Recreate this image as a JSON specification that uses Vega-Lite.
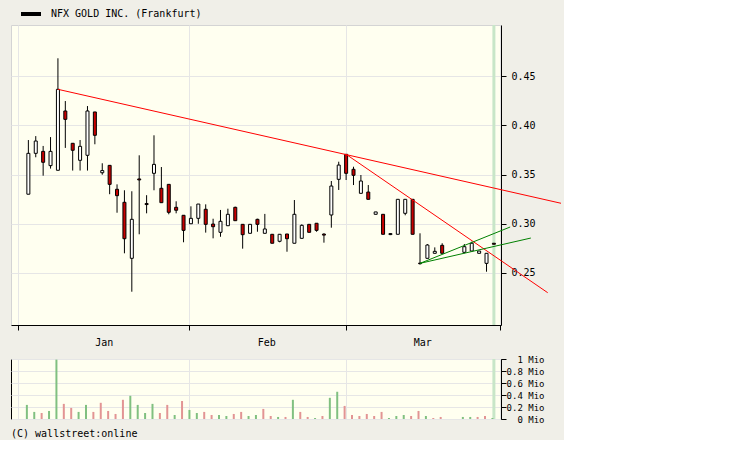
{
  "$schema": "https://vega.github.io/schema/vega-lite/v6.json",
  "background": "#f0efe8",
  "padding": {"left": 10, "top": 4, "right": 0, "bottom": 0},
  "spacing": 6,
  "config": {
    "view": {"fill": "#fffff0"},
    "axis": {"labelFont": "DejaVu Sans Mono", "labelFontSize": 10, "labelColor": "black", "tickColor": "black", "domainColor": "black", "gridColor": "#e6e6e6", "tickSize": 5}
  },
  "datasets": {
    "ohlc": [
      {"i":0,"o":0.330,"h":0.385,"l":0.330,"c":0.3715,"v":235000,"vd":"up"},
      {"i":1,"o":0.3715,"h":0.389,"l":0.3675,"c":0.384,"v":118000,"vd":"up"},
      {"i":2,"o":0.3735,"h":0.379,"l":0.3488,"c":0.3624,"v":100000,"vd":"down"},
      {"i":3,"o":0.359,"h":0.388,"l":0.356,"c":0.3735,"v":134000,"vd":"up"},
      {"i":4,"o":0.3543,"h":0.468,"l":0.3543,"c":0.4365,"v":990000,"vd":"up"},
      {"i":5,"o":0.4145,"h":0.4246,"l":0.377,"c":0.406,"v":252000,"vd":"down"},
      {"i":6,"o":0.3817,"h":0.3817,"l":0.354,"c":0.3746,"v":185000,"vd":"down"},
      {"i":7,"o":0.3644,"h":0.385,"l":0.354,"c":0.3786,"v":118000,"vd":"up"},
      {"i":8,"o":0.3695,"h":0.4195,"l":0.354,"c":0.4145,"v":235000,"vd":"up"},
      {"i":9,"o":0.4135,"h":0.4135,"l":0.3807,"c":0.3898,"v":118000,"vd":"down"},
      {"i":10,"o":0.3518,"h":0.3614,"l":0.3498,"c":0.354,"v":270000,"vd":"down"},
      {"i":11,"o":0.3593,"h":0.3593,"l":0.330,"c":0.340,"v":134000,"vd":"down"},
      {"i":12,"o":0.335,"h":0.340,"l":0.3112,"c":0.3285,"v":84000,"vd":"down"},
      {"i":13,"o":0.3218,"h":0.334,"l":0.270,"c":0.2848,"v":320000,"vd":"down"},
      {"i":14,"o":0.2649,"h":0.333,"l":0.231,"c":0.3045,"v":387000,"vd":"up"},
      {"i":15,"o":0.3455,"h":0.3695,"l":0.2893,"c":0.3445,"v":235000,"vd":"up"},
      {"i":16,"o":0.3205,"h":0.329,"l":0.3106,"c":0.3195,"v":100000,"vd":"up"},
      {"i":17,"o":0.3512,"h":0.3898,"l":0.334,"c":0.3603,"v":252000,"vd":"up"},
      {"i":18,"o":0.336,"h":0.3576,"l":0.3214,"c":0.3214,"v":100000,"vd":"down"},
      {"i":19,"o":0.340,"h":0.340,"l":0.3096,"c":0.3116,"v":235000,"vd":"down"},
      {"i":20,"o":0.3167,"h":0.3228,"l":0.3106,"c":0.3137,"v":67000,"vd":"up"},
      {"i":21,"o":0.3086,"h":0.3086,"l":0.2812,"c":0.2933,"v":300000,"vd":"down"},
      {"i":22,"o":0.300,"h":0.3177,"l":0.300,"c":0.3055,"v":151000,"vd":"up"},
      {"i":23,"o":0.3055,"h":0.320,"l":0.300,"c":0.320,"v":100000,"vd":"up"},
      {"i":24,"o":0.3147,"h":0.3197,"l":0.291,"c":0.2994,"v":118000,"vd":"down"},
      {"i":25,"o":0.2997,"h":0.3051,"l":0.2852,"c":0.297,"v":67000,"vd":"down"},
      {"i":26,"o":0.2913,"h":0.314,"l":0.2868,"c":0.3025,"v":67000,"vd":"up"},
      {"i":27,"o":0.298,"h":0.3153,"l":0.298,"c":0.3096,"v":50000,"vd":"up"},
      {"i":28,"o":0.3167,"h":0.3173,"l":0.3031,"c":0.3031,"v":84000,"vd":"down"},
      {"i":29,"o":0.2994,"h":0.2994,"l":0.2747,"c":0.2889,"v":118000,"vd":"down"},
      {"i":30,"o":0.2903,"h":0.2994,"l":0.2903,"c":0.2994,"v":50000,"vd":"up"},
      {"i":31,"o":0.3045,"h":0.3051,"l":0.2919,"c":0.2994,"v":67000,"vd":"up"},
      {"i":32,"o":0.2903,"h":0.310,"l":0.2903,"c":0.2947,"v":168000,"vd":"down"},
      {"i":33,"o":0.2893,"h":0.2893,"l":0.2802,"c":0.2802,"v":50000,"vd":"down"},
      {"i":34,"o":0.2822,"h":0.2893,"l":0.2812,"c":0.2893,"v":34000,"vd":"up"},
      {"i":35,"o":0.2896,"h":0.2896,"l":0.2716,"c":0.2848,"v":34000,"vd":"down"},
      {"i":36,"o":0.2802,"h":0.3241,"l":0.2802,"c":0.3096,"v":320000,"vd":"up"},
      {"i":37,"o":0.2852,"h":0.2994,"l":0.2852,"c":0.2984,"v":118000,"vd":"down"},
      {"i":38,"o":0.2994,"h":0.2994,"l":0.2913,"c":0.2913,"v":34000,"vd":"down"},
      {"i":39,"o":0.3005,"h":0.3005,"l":0.2919,"c":0.2933,"v":17000,"vd":"up"},
      {"i":40,"o":0.2895,"h":0.2903,"l":0.2808,"c":0.2885,"v":50000,"vd":"down"},
      {"i":41,"o":0.3089,"h":0.3434,"l":0.296,"c":0.3383,"v":353000,"vd":"up"},
      {"i":42,"o":0.3451,"h":0.363,"l":0.3343,"c":0.3596,"v":454000,"vd":"up"},
      {"i":43,"o":0.3705,"h":0.3705,"l":0.3444,"c":0.3512,"v":218000,"vd":"down"},
      {"i":44,"o":0.3553,"h":0.3579,"l":0.3393,"c":0.3492,"v":67000,"vd":"down"},
      {"i":45,"o":0.3309,"h":0.3495,"l":0.3309,"c":0.3434,"v":50000,"vd":"down"},
      {"i":46,"o":0.3322,"h":0.3393,"l":0.3248,"c":0.3248,"v":84000,"vd":"down"},
      {"i":47,"o":0.3096,"h":0.312,"l":0.3096,"c":0.312,"v":50000,"vd":"down"},
      {"i":48,"o":0.3096,"h":0.3096,"l":0.2893,"c":0.2893,"v":118000,"vd":"down"},
      {"i":49,"o":0.289,"h":0.2905,"l":0.2885,"c":0.290,"v":17000,"vd":"up"},
      {"i":50,"o":0.2893,"h":0.3248,"l":0.2893,"c":0.3248,"v":50000,"vd":"up"},
      {"i":51,"o":0.3106,"h":0.3248,"l":0.3086,"c":0.3248,"v":67000,"vd":"up"},
      {"i":52,"o":0.3248,"h":0.3248,"l":0.2893,"c":0.2893,"v":50000,"vd":"down"},
      {"i":53,"o":0.260,"h":0.2903,"l":0.2585,"c":0.2595,"v":134000,"vd":"down"},
      {"i":54,"o":0.2649,"h":0.2794,"l":0.2649,"c":0.2784,"v":50000,"vd":"up"},
      {"i":55,"o":0.270,"h":0.276,"l":0.270,"c":0.272,"v":17000,"vd":"down"},
      {"i":56,"o":0.2781,"h":0.2802,"l":0.270,"c":0.270,"v":34000,"vd":"down"},
      {"i":59,"o":0.271,"h":0.2794,"l":0.270,"c":0.2767,"v":34000,"vd":"up"},
      {"i":60,"o":0.2723,"h":0.2818,"l":0.2723,"c":0.2802,"v":34000,"vd":"up"},
      {"i":61,"o":0.270,"h":0.2723,"l":0.270,"c":0.2723,"v":34000,"vd":"down"},
      {"i":62,"o":0.2598,"h":0.270,"l":0.2513,"c":0.270,"v":50000,"vd":"down"},
      {"i":63,"o":0.2802,"h":0.2802,"l":0.2792,"c":0.2792,"v":17000,"vd":"up"}
    ],
    "trend": [
      {"line":"r1","kind":"down","i":4,"p":0.4365},
      {"line":"r1","kind":"down","i":72.08,"p":0.3208},
      {"line":"r2","kind":"down","i":43,"p":0.3705},
      {"line":"r2","kind":"down","i":70.28,"p":0.230},
      {"line":"g1","kind":"up","i":53,"p":0.2598},
      {"line":"g1","kind":"up","i":65.2,"p":0.2967},
      {"line":"g2","kind":"up","i":53,"p":0.2598},
      {"line":"g2","kind":"up","i":68.0,"p":0.2855}
    ],
    "lastday": [{"i":63}]
  },
  "vconcat": [
    {
      "width": 490,
      "height": 300,
      "view": {"stroke": "#d4d4d4", "fill": "#fffff0"},
      "encoding": {
        "x": {
          "field": "i", "type": "quantitative",
          "scale": {"domain": [-2.35, 63.96], "nice": false, "zero": false, "padding": 0},
          "axis": {
            "title": null,
            "values": [-1.4, 10.2, 21.7, 32.2, 43, 53.3, 63.8],
            "labelExpr": "datum.value == 10.2 ? 'Jan' : datum.value == 32.2 ? 'Feb' : datum.value == 53.3 ? 'Mar' : ''",
            "tickOpacity": {"condition": {"test": "datum.value == 10.2 || datum.value == 32.2 || datum.value == 53.3", "value": 0}, "value": 1},
            "gridOpacity": {"condition": {"test": "datum.value == 10.2 || datum.value == 32.2 || datum.value == 53.3", "value": 0}, "value": 1},
            "grid": true,
            "labelPadding": 7,
            "labelFlush": false,
            "labelOverlap": false
          }
        }
      },
      "layer": [
        {
          "data": {"name": "lastday"},
          "mark": {"type": "rule", "color": "#c8e6c8", "strokeWidth": 3},
          "encoding": {}
        },
        {
          "mark": {"type": "text", "text": "wallstreet online", "font": "Liberation Sans Narrow", "fontSize": 34, "fill": "#f8f8ec", "stroke": "#e6e6dc", "strokeWidth": 1, "align": "center", "baseline": "alphabetic"},
          "data": {"values": [{}]},
          "encoding": {
            "x": {"datum": 30.26, "type": "quantitative"},
            "y": {"datum": 0.320, "type": "quantitative", "scale": {"domain": [0.1972, 0.5018], "nice": false, "zero": false}, "axis": {"title": null}}
          }
        },
        {
          "mark": {"type": "text", "text": "1 Wert entspricht 1 Tag", "font": "DejaVu Sans Mono", "fontSize": 8, "fill": "#b8b8b8", "align": "left", "baseline": "alphabetic"},
          "data": {"values": [{}]},
          "encoding": {
            "x": {"datum": -2.3, "type": "quantitative"},
            "y": {"datum": 0.2013, "type": "quantitative", "scale": {"domain": [0.1972, 0.5018], "nice": false, "zero": false}, "axis": {"title": null}}
          }
        },
        {
          "data": {"name": "ohlc"},
          "mark": {"type": "rule", "strokeWidth": 1},
          "encoding": {
            "y": {
              "field": "l", "type": "quantitative",
              "scale": {"domain": [0.1972, 0.5018], "nice": false, "zero": false},
              "axis": {"title": null, "orient": "right", "values": [0.25, 0.3, 0.35, 0.4, 0.45], "format": ".2f", "labelPadding": 5, "grid": true}
            },
            "y2": {"field": "h"},
            "color": {
              "datum": "NFX GOLD INC. (Frankfurt)", "type": "nominal",
              "scale": {"range": ["black"]},
              "legend": {
                "orient": "none", "legendX": 10, "legendY": -21, "title": null,
                "symbolType": "M-1,-0.2H1V0.2H-1Z", "symbolSize": 400,
                "symbolFillColor": "black", "symbolStrokeWidth": 0,
                "labelOffset": 10, "labelFont": "DejaVu Sans Mono", "labelFontSize": 10, "labelColor": "black", "padding": 0,
                "encode": {"symbols": {"update": {"fill": {"value": "black"}, "stroke": {"value": "black"}, "strokeWidth": {"value": 0}}}}
              }
            }
          }
        },
        {
          "data": {"name": "ohlc"},
          "mark": {"type": "bar", "width": 3, "stroke": "black", "strokeWidth": 1},
          "encoding": {
            "y": {"field": "o", "type": "quantitative", "scale": {"domain": [0.1972, 0.5018], "nice": false, "zero": false}, "axis": {"title": null}},
            "y2": {"field": "c"},
            "fill": {"condition": {"test": "datum.c < datum.o", "value": "#c80000"}, "value": "white"}
          }
        },
        {
          "data": {"name": "trend"},
          "transform": [{"filter": "datum.kind == 'down'"}],
          "mark": {"type": "line", "color": "#ff0000", "strokeWidth": 1},
          "encoding": {
            "y": {"field": "p", "type": "quantitative", "scale": {"domain": [0.1972, 0.5018], "nice": false, "zero": false}, "axis": {"title": null}},
            "detail": {"field": "line"}
          }
        },
        {
          "data": {"name": "trend"},
          "transform": [{"filter": "datum.kind == 'up'"}],
          "mark": {"type": "line", "color": "#008000", "strokeWidth": 1},
          "encoding": {
            "y": {"field": "p", "type": "quantitative", "scale": {"domain": [0.1972, 0.5018], "nice": false, "zero": false}, "axis": {"title": null}},
            "detail": {"field": "line"}
          }
        }
      ]
    },
    {
      "width": 490,
      "height": 60,
      "view": {"stroke": "black", "fill": "#fffff0"},
      "title": {"text": "(C) wallstreet:online", "orient": "bottom", "anchor": "start", "font": "DejaVu Sans Mono", "fontSize": 10, "fontWeight": "normal", "color": "black", "offset": 5},
      "encoding": {
        "x": {
          "field": "i", "type": "quantitative",
          "scale": {"domain": [-2.35, 63.96], "nice": false, "zero": false, "padding": 0},
          "axis": {
            "title": null,
            "values": [-1.4, 10.2, 21.7, 32.2, 43, 53.3, 63.8],
            "labels": false, "ticks": false, "domain": false, "grid": true,
            "gridOpacity": {"condition": {"test": "datum.value == 10.2 || datum.value == 32.2 || datum.value == 53.3", "value": 0}, "value": 1}
          }
        }
      },
      "layer": [
        {
          "data": {"name": "lastday"},
          "mark": {"type": "rule", "color": "#c8e6c8", "strokeWidth": 3},
          "encoding": {}
        },
        {
          "data": {"name": "ohlc"},
          "mark": {"type": "bar", "width": 2, "xOffset": -1.5},
          "encoding": {
            "y": {
              "field": "v", "type": "quantitative",
              "scale": {"domain": [0, 1000000], "nice": false},
              "axis": {"title": null, "orient": "right", "values": [0, 200000, 400000, 600000, 800000, 1000000], "labelExpr": "format(datum.value / 1000000, '~g') + ' Mio'", "labelAlign": "right", "labelPadding": 38, "labelFontSize": 9, "grid": true}
            },
            "color": {"condition": {"test": "datum.vd == 'up'", "value": "#80c080"}, "value": "#e29494"}
          }
        }
      ]
    }
  ]
}
